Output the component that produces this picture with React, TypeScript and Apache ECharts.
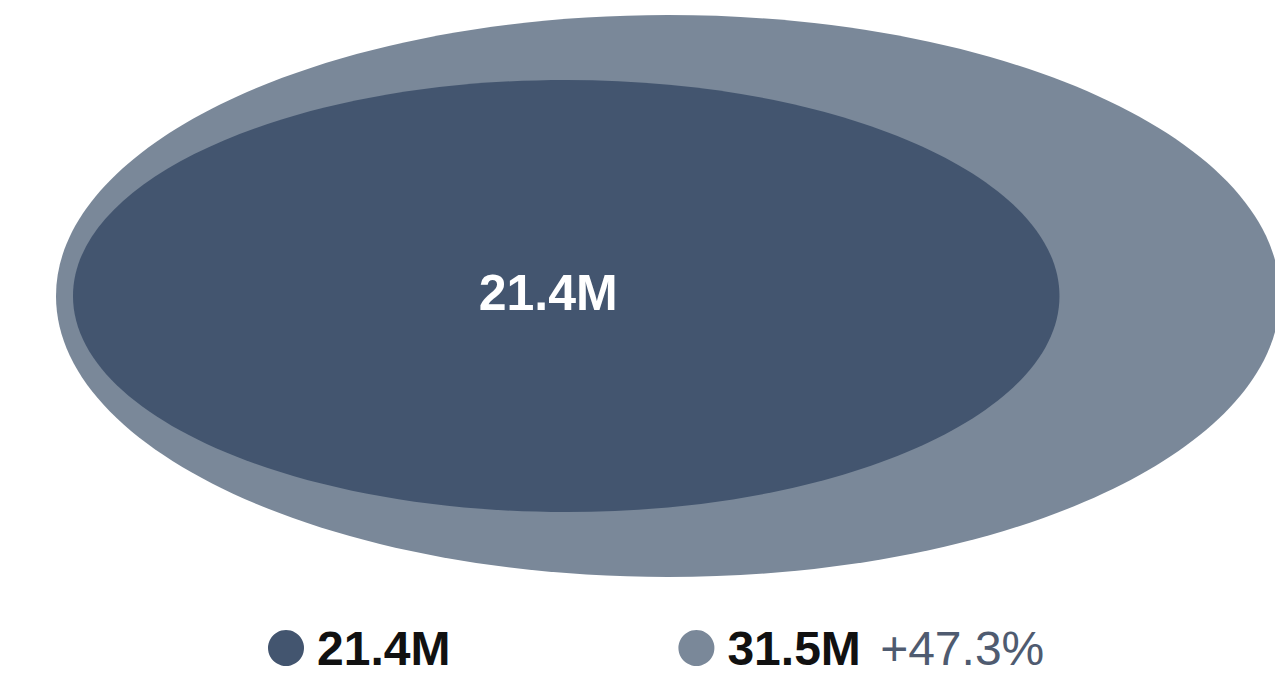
import React, { useEffect, useRef } from "react";
import * as echarts from "echarts";

const names = ["21.4M", "31.5M"];
const values = [21.4, 31.5];
const changeLabel = "+47.3%";
const colors = ["#43556F", "#7A8899"];

const FONT = "'Liberation Sans', Arial, sans-serif";

export default function App() {
  const ref = useRef<HTMLDivElement>(null);
  useEffect(() => {
    if (!ref.current) return;
    const chart = echarts.init(ref.current, undefined, { renderer: "svg" });
    const maxV = Math.max(...values);
    const OUTER_RX = 612;
    const OUTER_RY = 281;
    const LEFT = 56;
    const CY = 296;

    const makeRender = (isInner: boolean) => (params: any, api: any) => {
      const v = api.value(0);
      const k = v / maxV;
      const rx = OUTER_RX * Math.pow(k, 0.558);
      const ry = OUTER_RY * Math.pow(k, 0.68);
      const inset = (OUTER_RX - rx) * 0.143;
      const cx = LEFT + inset + rx;
      const children: any[] = [
        {
          type: "ellipse",
          shape: { cx, cy: CY, rx, ry },
          style: { fill: api.visual("color") },
        },
      ];
      if (isInner) {
        children.push({
          type: "text",
          style: {
            text: `${v}M`,
            x: cx - 18,
            y: CY - 3,
            align: "center",
            verticalAlign: "middle",
            fill: "#ffffff",
            font: `bold 50px ${FONT}`,
          },
        });
      }
      return { type: "group", children };
    };

    // order: outer (larger) drawn first
    const order = values
      .map((v, i) => i)
      .sort((a, b) => values[b] - values[a]);

    chart.setOption({
      animation: false,
      legend: {
        data: names,
        left: 268,
        top: 624,
        padding: 0,
        icon: "circle",
        itemWidth: 36,
        itemHeight: 36,
        itemGap: 228,
        formatter: (name: string) =>
          name === names[1]
            ? `{b|${name}} {g|${changeLabel}}`
            : `{b|${name}}`,
        textStyle: {
          fontSize: 48,
          fontFamily: FONT,
          color: "#111",
          rich: {
            b: {
              fontSize: 48,
              fontWeight: "bold",
              color: "#111111",
              fontFamily: FONT,
              padding: [0, 0, 0, 8],
              lineHeight: 40,
            },
            g: {
              fontSize: 48,
              color: "#4f5b70",
              fontFamily: FONT,
              padding: [0, 0, 0, 6],
              lineHeight: 40,
            },
          },
        },
      },
      series: order.map((i) => ({
        type: "custom",
        name: names[i],
        coordinateSystem: "none",
        itemStyle: { color: colors[i] },
        data: [[values[i]]],
        renderItem: makeRender(values[i] < maxV),
        silent: true,
      })),
    });
    return () => chart.dispose();
  }, []);
  return (
    <div
      ref={ref}
      style={{ position: "absolute", left: 0, top: 0, width: 1275, height: 675 }}
    />
  );
}
